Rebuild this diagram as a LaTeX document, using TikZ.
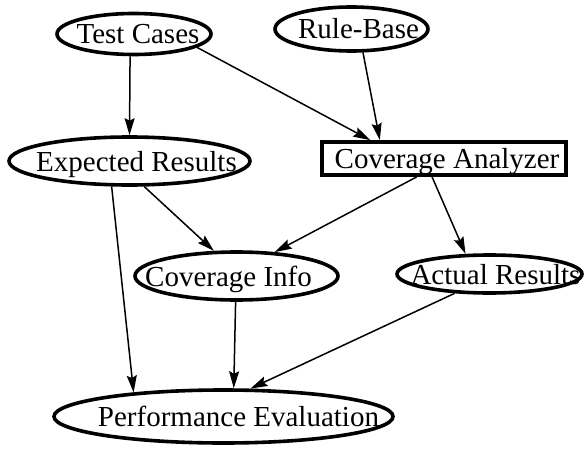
\documentclass[tikz,border=0pt]{standalone}
\usepackage{fontspec}
\setmainfont{Liberation Serif}
\usetikzlibrary{arrows.meta,shapes.geometric}
\tikzset{
	gnode/.style = {inner sep=0pt, text height=20pt, text depth=0pt, font=\fontsize{29}{34}\selectfont},
	ellnode/.style = {gnode, ellipse, draw=black, line width=3.6pt},
	boxnode/.style = {gnode, rectangle, draw=black, line width=3.8pt},
	flow/.style = {-{Stealth[length=17pt,width=10pt,inset=2.5pt]}, line width=1.5pt}
}
% text shifted sideways inside its outline
\newcommand{\lbl}[2]{\makebox[0pt]{\hspace*{#1}#2}}

\begin{document}
\begin{tikzpicture}[x=1pt,y=-1pt]
\useasboundingbox (0,0) rectangle (585,449);

\node [ellnode, minimum width=154, minimum height=41] (tests) at (134,34) {\lbl{8pt}{Test Cases}};
\node [ellnode, minimum width=153, minimum height=44] (rules) at (351.5,29) {\lbl{14pt}{Rule-Base}};
\node [ellnode, minimum width=241, minimum height=48] (expected) at (129.5,161) {\lbl{14pt}{Expected Results}};
\node [boxnode, minimum width=244, minimum height=33] (analyzer) at (444,158.5) {\lbl{6pt}{Coverage Analyzer}};
\node [ellnode, minimum width=203, minimum height=48] (covinfo) at (236.5,276) {\lbl{-16pt}{Coverage Info}};
\node [ellnode, minimum width=185, minimum height=38] (actual) at (489.5,274) {\lbl{12pt}{Actual Results}};
\node [ellnode, minimum width=339, minimum height=53] (perf) at (223.5,416.5) {\lbl{30pt}{Performance Evaluation}};

\draw [flow] (tests.-100) -- (expected.north);
\draw [flow] (tests.-12) -- (analyzer.166);
\draw [flow] (rules.-64) -- (analyzer.164);
\draw [flow] (expected.-60) -- (covinfo.132);
\draw [flow] (expected.235) -- (perf.165);
\draw [flow] (analyzer.214) -- (covinfo.32);
\draw [flow] (analyzer.237) -- (actual.140);
\draw [flow] (covinfo.-92) -- (perf.70);
\draw [flow] (actual.209) -- (perf.46);
\end{tikzpicture}
\end{document}
